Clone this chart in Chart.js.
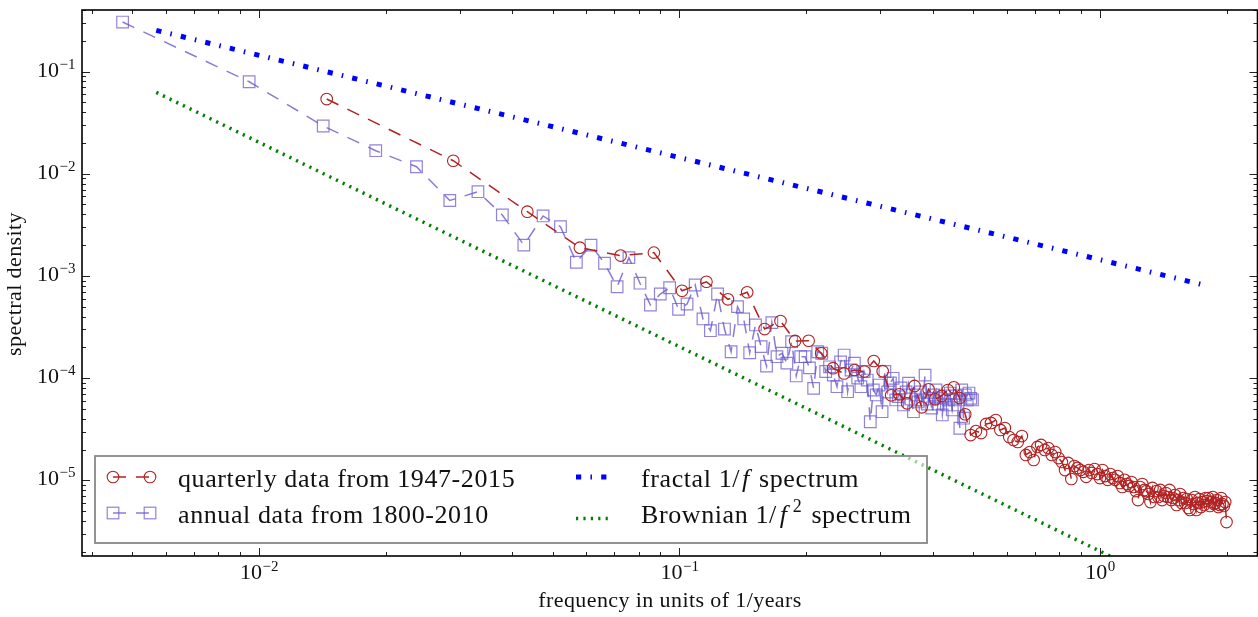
<!DOCTYPE html>
<html>
<head>
<meta charset="utf-8">
<script src="https://cdn.jsdelivr.net/npm/chart.js@4.4.1/dist/chart.umd.min.js"></script>
<style>
  html, body { margin: 0; padding: 0; background: #fff; }
  #wrap { width: 1258px; height: 617px; }
</style>
</head>
<body>
<div id="wrap"><canvas id="psdChart" width="1258" height="617"></canvas></div>
<script>
// ---------- DATA ----------
// frequency grid of the periodograms: k / (length of record in years)
const quarterlyYears = 69;   // 1947-2015
const annualYears = 211;     // 1800-2010

const quarterlyPsd = [
  0.0538, 0.0134, 0.00425, 0.00189, 0.00158, 0.00169, 7.16e-4, 8.77e-4, 5.9e-4, 6.92e-4,
  3.02e-4, 3.62e-4, 2.31e-4, 2.32e-4, 1.75e-4, 1.25e-4, 1.11e-4, 1.2e-4, 1.16e-4, 1.47e-4,
  1.17e-4, 6.79e-5, 6.94e-5, 5.66e-5, 8.38e-5, 5.18e-5, 7.76e-5, 6.2e-5, 6.68e-5, 7.65e-5,
  8.13e-5, 6.38e-5, 4.43e-5, 2.77e-5, 3.03e-5, 2.9e-5, 3.56e-5, 3.64e-5, 3.89e-5, 3.11e-5,
  3.25e-5, 2.65e-5, 2.48e-5, 2.37e-5, 2.71e-5, 1.77e-5, 1.89e-5, 1.58e-5, 2.12e-5, 2.22e-5,
  1.98e-5, 2.07e-5, 1.77e-5, 1.89e-5, 1.65e-5, 1.51e-5, 1.26e-5, 1.48e-5, 1.03e-5, 1.38e-5,
  1.32e-5, 1.26e-5, 1.21e-5, 1.08e-5, 1.26e-5, 1.18e-5, 1.29e-5, 1.15e-5, 1.05e-5, 1.26e-5,
  1.10e-5, 1.01e-5, 1.15e-5, 1.05e-5, 1.01e-5, 1.10e-5, 9.42e-6, 8.6e-6, 1.01e-5, 9.2e-6,
  8.8e-6, 9.62e-6, 8.6e-6, 7.85e-6, 6.41e-6, 8.6e-6, 9.2e-6, 8.04e-6, 7.85e-6, 7.34e-6,
  6.12e-6, 8.41e-6, 6.86e-6, 7.85e-6, 6.86e-6, 8.04e-6, 6.41e-6, 7.02e-6, 7.51e-6, 6.86e-6,
  8.04e-6, 6.41e-6, 6.71e-6, 7.18e-6, 5.73e-6, 6.41e-6, 7.34e-6, 6.0e-6, 6.71e-6, 6.0e-6,
  6.56e-6, 5.36e-6, 5.12e-6, 6.41e-6, 5.86e-6, 6.86e-6, 5.12e-6, 6.0e-6, 6.56e-6, 5.47e-6,
  6.12e-6, 5.73e-6, 6.71e-6, 6.27e-6, 6.71e-6, 5.6e-6, 6.12e-6, 6.86e-6, 5.86e-6, 6.0e-6,
  6.41e-6, 5.47e-6, 5.73e-6, 6.71e-6, 5.86e-6, 5.6e-6, 6.12e-6, 3.9e-6
];

const annualPsd = [
  0.305, 0.0794, 0.0293, 0.0168, 0.0117, 0.00547, 0.00667, 0.00395, 0.0020, 0.00386,
  0.00303, 0.00136, 0.0020, 0.00133, 7.83e-4, 1.51e-3, 8.48e-4, 5.19e-4, 6.65e-4, 7.66e-4,
  4.71e-4, 5.31e-4, 8.15e-4, 3.79e-4, 2.91e-4, 6.65e-4, 3.02e-4, 1.81e-4, 5.0e-4, 3.79e-4,
  1.77e-4, 3.31e-4, 2.03e-4, 1.31e-4, 3.49e-4, 1.62e-4, 1.75e-4, 1.40e-4, 2.27e-4, 1.05e-4,
  1.62e-4, 1.62e-4, 1.26e-4, 7.94e-5, 1.81e-4, 1.75e-4, 1.16e-4, 1.29e-4, 1.07e-4, 8.24e-5,
  1.44e-4, 1.68e-4, 7.36e-5, 1.20e-4, 1.40e-4, 1.0e-4, 8.24e-5, 1.16e-4, 9.57e-5, 3.74e-5,
  7.65e-5, 6.84e-5, 8.55e-5, 4.69e-5, 1.16e-4, 7.31e-5, 8.95e-5, 9.95e-5, 6.11e-5, 6.58e-5,
  8.0e-5, 5.46e-5, 7.31e-5, 8.9e-5, 6.25e-5, 4.69e-5, 6.84e-5, 5.84e-5, 7.31e-5, 6.11e-5,
  1.07e-4, 5.58e-5, 6.34e-5, 5.1e-5, 6.84e-5, 7.65e-5, 5.58e-5, 6.38e-5, 4.36e-5, 6.68e-5,
  5.46e-5, 6.11e-5, 7.14e-5, 4.88e-5, 6.11e-5, 6.68e-5, 5.46e-5, 3.23e-5, 7.65e-5, 4.05e-5,
  6.84e-5, 6.11e-5, 7.14e-5, 6.34e-5, 6.11e-5
];

// reference spectra, drawn between their two end points
const fractalFreq = [0.0057, 1.8];
const fractalPsd = [0.253, 8.0e-4];
const brownianFreq = [0.0057, 1.78];
const brownianPsd = [0.0625, 6.4e-7];

// axis ranges and labelled decades
const xRange = [0.003795, 2.37];
const yRange = [1.816e-6, 0.40];
const xTickExps = [-2, -1, 0];
const yTickExps = [-5, -4, -3, -2, -1];

const legendItems = [
  "quarterly data from 1947-2015",
  "annual data from 1800-2010",
  "fractal 1/f spectrum",
  "Brownian 1/f2 spectrum"
];

// ---------- HELPERS ----------
const SERIF = "'Liberation Serif', 'Times New Roman', serif";

function toPoints(xs, ys) {
  return ys.map((y, i) => ({ x: xs[i], y: y }));
}

function gridPoints(psd, years) {
  return psd.map((y, i) => ({ x: (i + 1) / years, y: y }));
}

// "10" with a raised exponent, anchored at (x, y) baseline
function drawPower(ctx, exp, x, y, align) {
  const base = "10";
  const sup = exp < 0 ? "\u2212" + Math.abs(exp) : String(exp);
  ctx.font = "22px " + SERIF;
  const wb = ctx.measureText(base).width;
  ctx.font = "15px " + SERIF;
  const ws = ctx.measureText(sup).width;
  const total = wb + ws;
  let left = x - total / 2;
  if (align === "right") left = x - total;
  ctx.textAlign = "left";
  ctx.font = "22px " + SERIF;
  ctx.fillText(base, left, y);
  ctx.font = "15px " + SERIF;
  ctx.fillText(sup, left + wb + 0.5, y - 8);
}

function drawRich(ctx, parts, x, y) {
  parts.forEach(p => {
    ctx.font = p.font;
    x += p.dx || 0;
    ctx.fillText(p.text, x, y + (p.dy || 0));
    x += ctx.measureText(p.text).width;
  });
}

function logTicks(min, max) {
  const out = [];
  for (let e = -7; e <= 1; e++) {
    for (let m = 1; m <= 9; m++) {
      const v = m * Math.pow(10, e);
      if (v >= min && v <= max) out.push({ v: v, major: m === 1 });
    }
  }
  return out;
}

// ---------- FRAME, TICKS, LABELS, LEGEND ----------
const decorPlugin = {
  id: "decor",
  afterDraw(chart) {
    const ctx = chart.ctx;
    const a = chart.chartArea;
    const xs = chart.scales.x;
    const ys = chart.scales.y;

    ctx.save();

    // ticks on all four sides, pointing inwards
    ctx.strokeStyle = "#222";
    ctx.lineWidth = 1;
    logTicks(xRange[0], xRange[1]).forEach(t => {
      const px = Math.round(xs.getPixelForValue(t.v)) + 0.5;
      const len = t.major ? 8 : 4;
      ctx.beginPath();
      ctx.moveTo(px, a.bottom); ctx.lineTo(px, a.bottom - len);
      ctx.moveTo(px, a.top); ctx.lineTo(px, a.top + len);
      ctx.stroke();
    });
    logTicks(yRange[0], yRange[1]).forEach(t => {
      const py = Math.round(ys.getPixelForValue(t.v)) + 0.5;
      const len = t.major ? 8 : 4;
      ctx.beginPath();
      ctx.moveTo(a.left, py); ctx.lineTo(a.left + len, py);
      ctx.moveTo(a.right, py); ctx.lineTo(a.right - len, py);
      ctx.stroke();
    });

    // frame
    ctx.strokeStyle = "#000";
    ctx.lineWidth = 1.6;
    ctx.strokeRect(a.left, a.top, a.right - a.left, a.bottom - a.top);

    // tick labels
    ctx.fillStyle = "#111";
    ctx.textBaseline = "alphabetic";
    xTickExps.forEach(e => {
      drawPower(ctx, e, xs.getPixelForValue(Math.pow(10, e)), a.bottom + 23, "center");
    });
    yTickExps.forEach(e => {
      drawPower(ctx, e, a.left - 7, ys.getPixelForValue(Math.pow(10, e)) + 5, "right");
    });

    // axis titles
    ctx.font = "22px " + SERIF;
    ctx.letterSpacing = "0.4px";
    ctx.textAlign = "center";
    ctx.fillText("frequency in units of 1/years", 670, 607);
    ctx.save();
    ctx.translate(21, 284);
    ctx.rotate(-Math.PI / 2);
    ctx.fillText("spectral density", 0, 0);
    ctx.restore();
    ctx.letterSpacing = "0px";

    // legend box
    const box = { left: 95, top: 456, right: 927, bottom: 543 };
    ctx.fillStyle = "rgba(255,255,255,0.6)";
    ctx.fillRect(box.left, box.top, box.right - box.left, box.bottom - box.top);
    ctx.strokeStyle = "#888";
    ctx.lineWidth = 1.8;
    ctx.strokeRect(box.left, box.top, box.right - box.left, box.bottom - box.top);

    const ds = chart.data.datasets;
    const sample = (d, x0, x1, y) => {
      ctx.save();
      ctx.strokeStyle = d.borderColor;
      ctx.lineWidth = d.borderWidth;
      ctx.setLineDash(d.borderDash || []);
      ctx.beginPath();
      ctx.moveTo(x0, y); ctx.lineTo(x1, y);
      ctx.stroke();
      ctx.setLineDash([]);
      ctx.lineWidth = d.pointBorderWidth || 1;
      ctx.strokeStyle = d.pointBorderColor || d.borderColor;
      [x0, x1].forEach(x => {
        if (d.pointStyle === "circle") {
          ctx.beginPath(); ctx.arc(x, y, d.pointRadius, 0, Math.PI * 2); ctx.stroke();
        } else if (d.pointStyle === "rect") {
          const s = d.pointRadius * Math.SQRT1_2;
          ctx.strokeRect(x - s, y - s, 2 * s, 2 * s);
        }
      });
      ctx.restore();
    };
    sample(ds[0], 113, 150, 477);
    sample(ds[1], 113, 150, 513);
    sample(ds[2], 576, 607, 477);
    sample(ds[3], 576, 610, 518.5);

    const reg = "26px " + SERIF;
    const ita = "italic 26px " + SERIF;
    ctx.fillStyle = "#111";
    ctx.textAlign = "left";
    ctx.letterSpacing = "0.6px";
    drawRich(ctx, [{ text: legendItems[0], font: reg }], 178, 487);
    drawRich(ctx, [{ text: legendItems[1], font: reg }], 178, 523);
    drawRich(ctx, [
      { text: "fractal 1/", font: reg },
      { text: "f", font: ita, dx: 2 },
      { text: " spectrum", font: reg, dx: 2 }
    ], 641, 487);
    drawRich(ctx, [
      { text: "Brownian 1/", font: reg },
      { text: "f", font: ita, dx: 3 },
      { text: "2", font: "18px " + SERIF, dy: -11, dx: 5 },
      { text: " spectrum", font: reg, dx: 2 }
    ], 641, 523);
    ctx.letterSpacing = "0px";

    ctx.restore();
  }
};

// ---------- CHART ----------
const ctx = document.getElementById("psdChart").getContext("2d");
const psdChart = new Chart(ctx, {
  type: "line",
  data: {
    datasets: [
      {
        label: legendItems[0],
        data: gridPoints(quarterlyPsd, quarterlyYears),
        borderColor: "#b22222",
        borderWidth: 1.5,
        borderDash: [13, 10],
        pointStyle: "circle",
        pointRadius: 5.8,
        pointBorderWidth: 1.1,
        pointBorderColor: "#b22222",
        pointBackgroundColor: "rgba(0,0,0,0)",
        tension: 0,
        fill: false
      },
      {
        label: legendItems[1],
        data: gridPoints(annualPsd, annualYears),
        borderColor: "rgba(106,90,205,0.8)",
        borderWidth: 1.5,
        borderDash: [13, 10],
        pointStyle: "rect",
        pointRadius: 8.2,
        pointBorderWidth: 1.2,
        pointBorderColor: "rgba(106,90,205,0.75)",
        pointBackgroundColor: "rgba(0,0,0,0)",
        tension: 0,
        fill: false
      },
      {
        label: legendItems[2],
        data: toPoints(fractalFreq, fractalPsd),
        borderColor: "#0000ff",
        borderWidth: 5,
        borderDash: [5.2, 9.25, 1.5, 9.25],
        borderCapStyle: "butt",
        pointRadius: 0,
        tension: 0,
        fill: false
      },
      {
        label: legendItems[3],
        data: toPoints(brownianFreq, brownianPsd),
        borderColor: "#008000",
        borderWidth: 3.5,
        borderDash: [2.2, 5.2],
        borderCapStyle: "butt",
        pointRadius: 0,
        tension: 0,
        fill: false
      }
    ]
  },
  options: {
    responsive: false,
    animation: false,
    devicePixelRatio: 1,
    layout: { autoPadding: false, padding: { left: 82, top: 10, right: 0.5, bottom: 61 } },
    plugins: {
      legend: { display: false },
      tooltip: { enabled: false }
    },
    scales: {
      x: { type: "logarithmic", display: false, min: xRange[0], max: xRange[1] },
      y: { type: "logarithmic", display: false, min: yRange[0], max: yRange[1] }
    }
  },
  plugins: [decorPlugin]
});
</script>
</body>
</html>
